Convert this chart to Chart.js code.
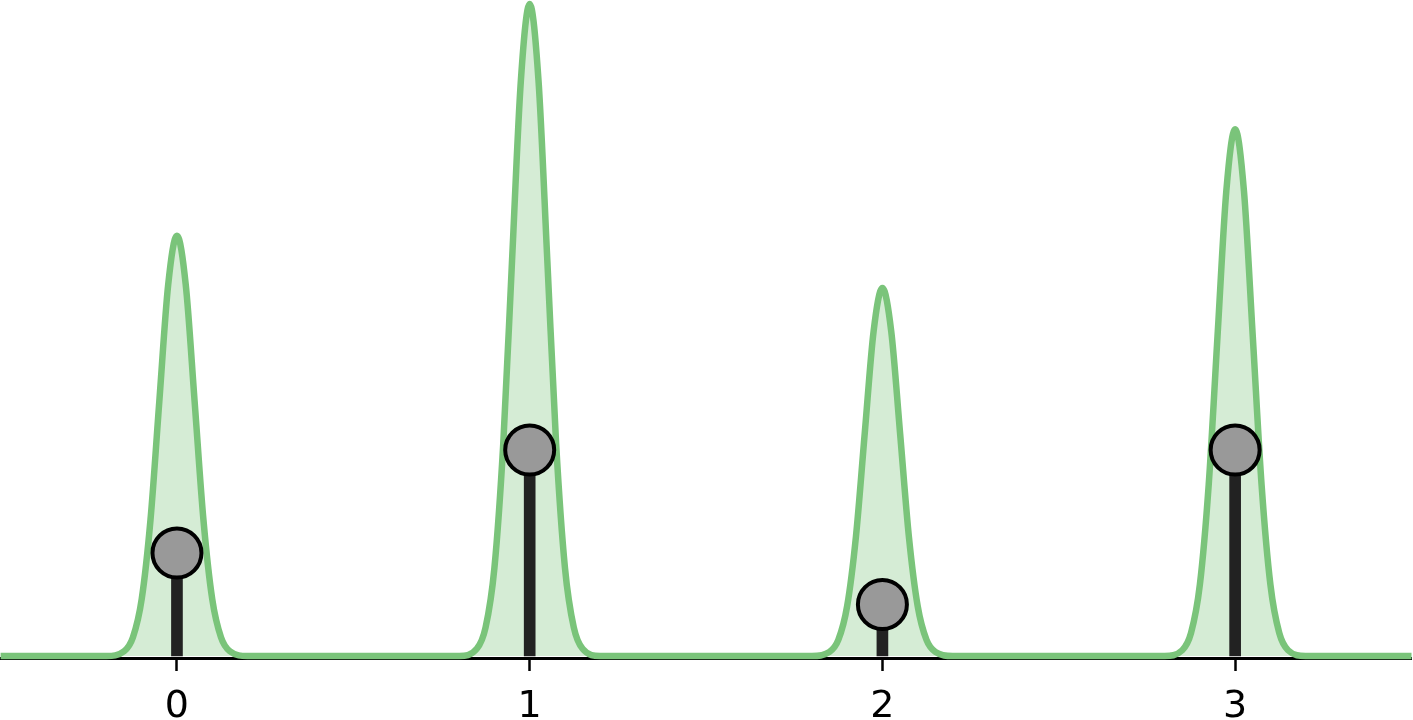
<!DOCTYPE html>
<html>
<head>
<meta charset="utf-8">
<script src="https://cdn.jsdelivr.net/npm/chart.js@4"></script>
<style>
  body { margin: 0; background: #fff; }
  canvas { display: block; }
</style>
</head>
<body>
<canvas id="peakChart" width="1413" height="720"></canvas>
<script>
// stem positions and heights
const stemX = [0, 1, 2, 3];
const stemY = [0.5, 1.0, 0.25, 1.0];
// x-axis tick labels
const xTicks = [0, 1, 2, 3];

// green density curve
const curveX = [
    -0.5,
    -0.2, -0.15, -0.125, -0.1, -0.075, -0.05, -0.025, 0, 0.025, 0.05, 0.075, 0.1, 0.125, 0.15, 0.2,
    0.8, 0.85, 0.875, 0.9, 0.925, 0.95, 0.975, 1, 1.025, 1.05, 1.075, 1.1, 1.125, 1.15, 1.2,
    1.8, 1.85, 1.875, 1.9, 1.925, 1.95, 1.975, 2, 2.025, 2.05, 2.075, 2.1, 2.125, 2.15, 2.2,
    2.8, 2.85, 2.875, 2.9, 2.925, 2.95, 2.975, 3, 3.025, 3.05, 3.075, 3.1, 3.125, 3.15, 3.2,
    3.5
];
const curveY = [
    0,
    0, 0.023, 0.090, 0.276, 0.662, 1.237, 1.800, 2.04, 1.800, 1.237, 0.662, 0.276, 0.090, 0.023, 0,
    0, 0.035, 0.139, 0.428, 1.028, 1.920, 2.793, 3.165, 2.793, 1.920, 1.028, 0.428, 0.139, 0.035, 0,
    0, 0.020, 0.078, 0.242, 0.580, 1.083, 1.576, 1.786, 1.576, 1.083, 0.580, 0.242, 0.078, 0.020, 0,
    0, 0.028, 0.112, 0.346, 0.830, 1.551, 2.257, 2.557, 2.257, 1.551, 0.830, 0.346, 0.112, 0.028, 0,
    0
];

const curvePoints = curveX.map((x, i) => ({ x: x, y: curveY[i] }));
const stemPoints = stemX.map((x, i) => ({ x: x, y: stemY[i] }));

const peakChart = new Chart(document.getElementById('peakChart'), {
    type: 'line',
    data: {
        datasets: [
            {
                type: 'line',
                data: curvePoints,
                borderColor: 'rgb(122, 196, 122)',
                backgroundColor: 'rgb(213, 236, 213)',
                borderWidth: 6.5,
                fill: 'origin',
                pointRadius: 0,
                cubicInterpolationMode: 'monotone',
                clip: false,
                order: 3
            },
            {
                type: 'bar',
                data: stemPoints,
                backgroundColor: '#222222',
                barThickness: 11,
                order: 2
            },
            {
                type: 'scatter',
                data: stemPoints,
                backgroundColor: '#999999',
                borderColor: '#000000',
                pointRadius: 24.5,
                pointHoverRadius: 24.5,
                borderWidth: 4,
                clip: false,
                order: 1
            }
        ]
    },
    options: {
        responsive: false,
        animation: false,
        devicePixelRatio: 1,
        layout: {
            autoPadding: false,
            padding: { left: 0.6, right: 1.5, top: 0, bottom: 0 }
        },
        plugins: {
            legend: { display: false },
            tooltip: { enabled: false }
        },
        scales: {
            x: {
                type: 'linear',
                min: -0.5,
                max: 3.5,
                offset: false,
                afterBuildTicks: function(scale) {
                    scale.ticks = xTicks.map(v => ({ value: v }));
                },
                afterFit: function(scale) {
                    scale.height = 62;
                },
                grid: {
                    display: true,
                    offset: false,
                    drawOnChartArea: false,
                    drawTicks: true,
                    tickLength: 13,
                    tickWidth: 2.5,
                    tickColor: '#000000'
                },
                border: {
                    display: true,
                    color: '#000000',
                    width: 3
                },
                ticks: {
                    color: '#000000',
                    padding: 13,
                    maxRotation: 0,
                    font: { family: 'DejaVu Sans', size: 38 }
                }
            },
            y: {
                display: false,
                min: -0.0097,
                max: 3.184
            }
        }
    }
});
</script>
</body>
</html>
